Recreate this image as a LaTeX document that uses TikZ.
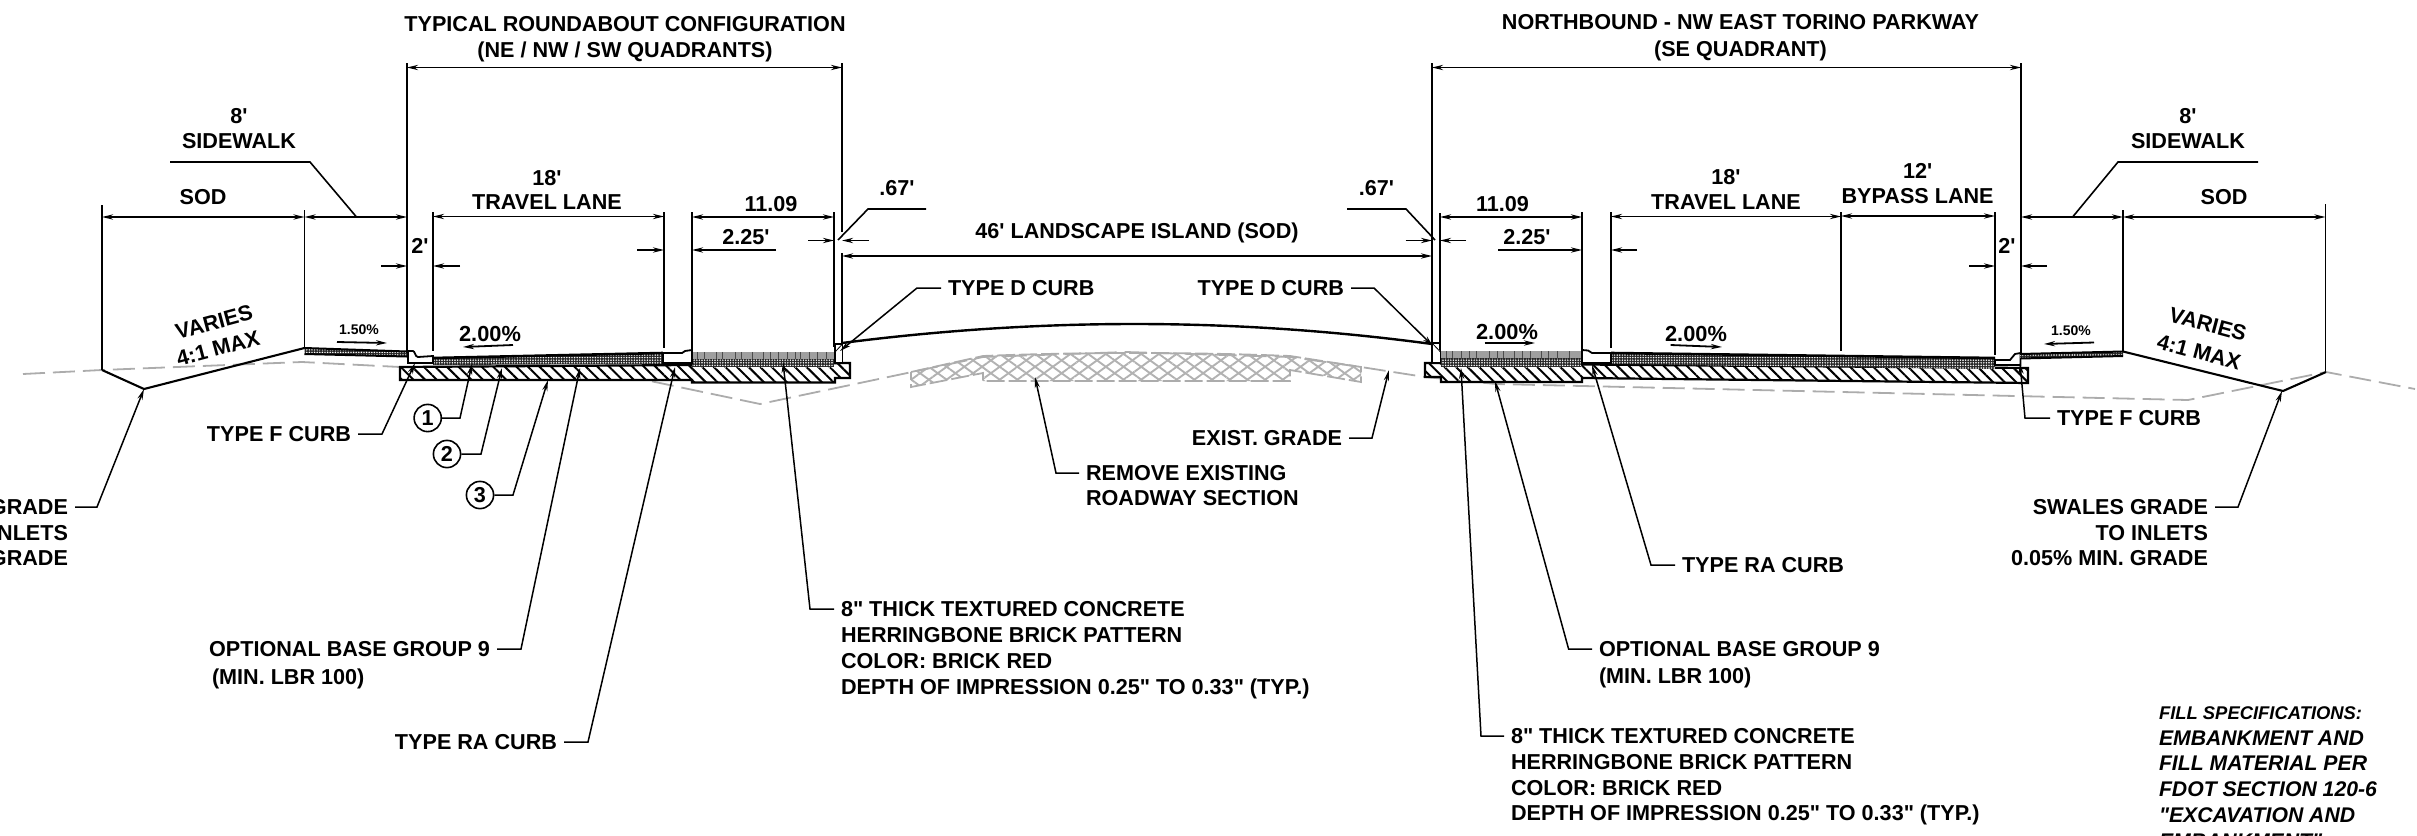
\documentclass[tikz,border=0pt]{standalone}
\usepackage{fontspec}
\setmainfont{Liberation Sans}[Ligatures=TeXOff]
\usetikzlibrary{arrows.meta,patterns.meta}

\begin{document}
\begin{tikzpicture}[x=0.5pt,y=-0.5pt,>={Stealth[length=5.5pt,width=2.6pt]}]
    \tikzstyle{extline}=[line width=0.7pt]
    \tikzstyle{dimline}=[<->,line width=0.9pt]
    \tikzstyle{tickline}=[->,line width=0.9pt]
    \tikzstyle{leader}=[->,line width=0.75pt]
    \tikzstyle{lbl}=[font=\fontsize{10.8}{12}\selectfont\bfseries,inner sep=0pt,outer sep=3.5pt,text height=7.6pt,text depth=0pt]
    \tikzstyle{slopelbl}=[lbl,font=\fontsize{10.9}{12}\selectfont\bfseries,text height=7.8pt]
    \tikzstyle{tinylbl}=[lbl,font=\fontsize{7}{9}\selectfont\bfseries,text height=5pt]
    \tikzstyle{notelbl}=[lbl,font=\fontsize{10.6}{12}\selectfont\bfseries\itshape,anchor=west]
    \tikzstyle{callout}=[circle,draw=black,line width=0.8pt,fill=white,minimum size=13.6pt,inner sep=0pt,font=\fontsize{10.8}{12}\selectfont\bfseries]
    \tikzstyle{grade}=[gray!65,line width=0.9pt,dash pattern=on 11pt off 4pt]
    \tikzstyle{hatchfill}=[draw=black,line width=1.1pt,fill=white,postaction={pattern={Lines[angle=-45,distance=4.1pt,line width=1pt]}}]
    \tikzstyle{speck}=[fill=black!85,postaction={pattern={Dots[distance=1.3pt,radius=0.42pt]},pattern color=white}]
    \tikzstyle{curb}=[draw=black,line width=0.9pt,fill=white]
    \tikzstyle{slopearrow}=[->,line width=0.9pt]
    \tikzstyle{removed}=[gray!65,line width=0.9pt]

    \useasboundingbox (0,0) rectangle (2417,836);

    % existing grade and the section to remove
    \draw[grade] (23,374) -- (102,370) -- (302,362) -- (400,367) -- (636,378) -- (760,404) -- (912,372)
        -- (983,357) -- (1126,352) -- (1290,357) -- (1361,367) -- (1425,377) -- (1496,384)
        -- (2188,400) -- (2326,372) -- (2415,389);
    \begin{scope}
        \clip (911,372) -- (983,356) .. controls (1080,352) and (1190,352) .. (1290,356) -- (1361,367) -- (1361,382)
            -- (1290,370) -- (1290,381) -- (983,381) -- (983,373) -- (911,387) -- cycle;
        \fill[pattern={Lines[angle=36,distance=5.2pt,line width=0.95pt]},pattern color=gray!60] (905,345) rectangle (1365,390);
        \fill[pattern={Lines[angle=-36,distance=5.2pt,line width=0.95pt]},pattern color=gray!60] (905,345) rectangle (1365,390);
    \end{scope}
    \draw[removed,dash pattern=on 9pt off 2pt] (911,372) -- (983,356) .. controls (1080,352) and (1190,352) .. (1290,356) -- (1361,367) -- (1361,382)
        -- (1290,370) -- (1290,381) -- (983,381) -- (983,373) -- (911,387) -- cycle;

    % left pavement
    \draw[hatchfill] (400,367) -- (692,365) -- (850,363) -- (850,378) -- (835,378) -- (835,382.5) -- (692,382.5) -- (692,380) -- (400,380) -- cycle;
    \fill[speck] (433,358) -- (663,353) -- (663,364) -- (433,365) -- cycle;
    \draw[line width=1.3pt] (433,358) -- (663,353);
    \fill[gray!75] (692,352) rectangle (834,359);
    \fill[speck] (692,359) rectangle (834,367);
    \foreach \x in {697,704,716,722,735,741,752,763,770,778,787,795,800,809,817,826}
        \draw[black!70,line width=0.4pt] (\x,352) -- (\x,359);
    \draw[curb] (408,351) -- (413,351) .. controls (415,351) and (415,357) .. (418,357) -- (433,356) -- (433,363) -- (408,363) -- cycle;
    \draw[curb] (663,353) -- (682,353) -- (685,351) -- (692,350) -- (692,363) -- (663,363) -- cycle;
    \draw[curb] (835,344) -- (842.5,344) -- (842.5,363) -- (835,363) -- cycle;
    \draw[line width=0.4pt] (835,352) -- (842.5,344);
    \fill[speck] (304.5,348) -- (407,351.5) -- (407,356) -- (304.5,354) -- cycle;
    \draw[line width=1pt] (304.5,348) -- (407,351.5);
    \draw[line width=1pt] (304.5,354) -- (407,356.5);

    % right pavement
    \draw[hatchfill] (1425,363) -- (1582,364.5) -- (2028,368) -- (2028,383) -- (1582,378) -- (1582,382) -- (1441,382) -- (1441,377) -- (1425,377) -- cycle;
    \fill[speck] (1611,353) -- (1995,358) -- (1995,369) -- (1611,364) -- cycle;
    \draw[line width=1.3pt] (1611,353) -- (1995,358);
    \fill[gray!75] (1441,351) rectangle (1581,358);
    \fill[speck] (1441,358) rectangle (1581,367);
    \foreach \x in {1446,1452,1461,1469,1476,1489,1497,1503,1514,1522,1530,1541,1548,1557,1569}
        \draw[black!70,line width=0.4pt] (\x,351) -- (\x,358);
    \draw[curb] (1582,350) -- (1588,350.5) -- (1592,353) -- (1611,353) -- (1611,363) -- (1582,363) -- cycle;
    \draw[curb] (1995,360) -- (2010,360) -- (2015,354) -- (2020.5,353) -- (2020.5,365) -- (1995,365) -- cycle;
    \draw[curb] (1432,343) -- (1440.5,343) -- (1440.5,363) -- (1432,363) -- cycle;
    \draw[line width=0.4pt] (1432,343) -- (1440.5,352);
    \fill[speck] (2020,354) -- (2123,352) -- (2123,355.5) -- (2020,358) -- cycle;
    \draw[line width=1pt] (2020,354) -- (2123,351.5);
    \draw[line width=1pt] (2020,358.5) -- (2123,356);

    % island and side slopes
    \draw[line width=1.2pt] (842,343) .. controls (1040,317.5) and (1235,317.5) .. (1432,344);
    \draw[line width=1.05pt] (102,370) -- (144,389) -- (304.5,348);
    \draw[line width=1.05pt] (2123,351.5) -- (2283,391) -- (2326,372);

    % extension lines
    \foreach \name/\x/\ya/\yb in {a/102/205/370, b/304.5/210/348, c/407/63/353, d/433/212/351, e/664/212/348, f/692/212/350,
            g/834/212/347, h/842/63/232, i/842/253/343, j/1432/63/343, k/1440/213/350, l/1582/212/352, m/1611/212/348,
            n/1841/212/351, o/1995/212/355, p/2021/63/353, q/2123/210/351, r/2325.5/204/371} {
        \coordinate (X-\name) at (\x,\ya);
        \coordinate (Y-\name) at (\x,\yb);
        \draw[extline] (X-\name) -- (Y-\name);
    }

    % dimensions between them
    \foreach \from/\to/\y in {c/h/67.5, a/b/217, b/c/217, d/e/216.5, f/g/217, i/j/256, j/p/67.5, k/l/217, m/n/216.5,
            n/o/216, p/q/217, q/r/217}
        \draw[dimline] (X-\from |- 0,\y) -- (X-\to |- 0,\y);
    \foreach \to/\from/\y in {c/381/266, d/460/266, e/637/250, f/776/250, g/808/240.5, i/869/240.5, j/1405.6/240.5, k/1466/240.5,
            l/1498/250, m/1637/250, o/1969/266, p/2047/266}
        \draw[tickline] (\from,\y) -- (X-\to |- 0,\y);

    % centred texts
    \foreach \x/\y/\txt in {625/24/{TYPICAL ROUNDABOUT CONFIGURATION}, 625/50/{(NE / NW / SW QUADRANTS)},
            239/116/{8'}, 239/141/{SIDEWALK}, 203/197/{SOD}, 547/178/{18'}, 547/202/{TRAVEL LANE}, 771/204/{11.09},
            746/237/{2.25'}, 420/246/{2'}, 897/188/{.67'}, 1137/231/{46' LANDSCAPE ISLAND (SOD)}, 1376.5/188/{.67'},
            1740.5/22/{NORTHBOUND - NW EAST TORINO PARKWAY}, 1740.5/49/{(SE QUADRANT)}, 1502.5/204/{11.09}, 1527/237/{2.25'},
            1726/177/{18'}, 1726/202/{TRAVEL LANE}, 1917.6/171/{12'}, 1917.6/196/{BYPASS LANE}, 2007/246/{2'},
            2188/116/{8'}, 2188/141/{SIDEWALK}, 2224/197/{SOD}}
        \node[lbl] at (\x,\y) {\txt};
    \foreach \x/\y/\rot/\txt in {214/322/15/{VARIES}, 218/348/15/{4:1 MAX}, 2208/324/-15/{VARIES}, 2199/352/-15/{4:1 MAX}}
        \node[lbl,rotate=\rot] at (\x,\y) {\txt};

    % slope marks
    \node[tinylbl] at (359,329) {1.50\%};
    \node[tinylbl] at (2071,330) {1.50\%};
    \foreach \x/\y in {490/334, 1507/332, 1696/334}
        \node[slopelbl] at (\x,\y) {2.00\%};
    \foreach \xa/\ya/\xb/\yb in {337/342/387/343, 513/345/463/347, 1484.5/343/1535/343, 1670.6/345/1722/347, 2094/342.5/2044/344}
        \draw[slopearrow] (\xa,\ya) -- (\xb,\yb);

    % labels with a leader
    \foreach \name/\x/\y/\anc/\txt in {swale-l/75/507/east/{SWALES GRADE}, curbf-l/358/434/east/{TYPE F CURB},
            base-l/497/649/east/{OPTIONAL BASE GROUP 9}, curbra-l/564/742/east/{TYPE RA CURB},
            conc-l/834/609/west/{8" THICK TEXTURED CONCRETE}, remove/1079/473/west/{REMOVE EXISTING},
            grade/1349/438/east/{EXIST. GRADE}, curbd-l/941/288/west/{TYPE D CURB}, curbd-r/1351/288/east/{TYPE D CURB},
            conc-r/1504/736/west/{8" THICK TEXTURED CONCRETE}, base-r/1592/649/west/{OPTIONAL BASE GROUP 9},
            curbra-r/1675/565/west/{TYPE RA CURB}, curbf-r/2050/418/west/{TYPE F CURB}, swale-r/2215/507/east/{SWALES GRADE}}
        \node[lbl,anchor=\anc] (\name) at (\x,\y) {\txt};

    % the lines under them
    \foreach \x/\y/\anc/\txt in {75/533/east/{TO INLETS}, 75/558/east/{0.05\% MIN. GRADE}, 205/677/west/{(MIN. LBR 100)},
            834/635/west/{HERRINGBONE BRICK PATTERN}, 834/661/west/{COLOR: BRICK RED}, 834/687/west/{DEPTH OF IMPRESSION 0.25" TO 0.33" (TYP.)},
            1079/498/west/{ROADWAY SECTION}, 1504/762/west/{HERRINGBONE BRICK PATTERN}, 1504/788/west/{COLOR: BRICK RED},
            1504/813/west/{DEPTH OF IMPRESSION 0.25" TO 0.33" (TYP.)}, 1592/676/west/{(MIN. LBR 100)},
            2215/533/east/{TO INLETS}, 2215/558/east/{0.05\% MIN. GRADE}}
        \node[lbl,anchor=\anc] at (\x,\y) {\txt};

    % numbered callouts
    \node[callout] (one) at (427.7,418) {1};
    \node[callout] (two) at (447,454) {2};
    \node[callout] (three) at (480,495) {3};

    % leaders
    \foreach \name/\side/\vx/\tx/\ty in {swale-l/east/97/144/389, curbf-l/east/382/415/363, one/east/460/472/364, two/east/481/502/368,
            three/east/513/548/380, base-l/east/521/580/368, curbra-l/east/588/675/367, conc-l/west/810/783/362,
            remove/west/1056/1035/377, grade/east/1372/1389/370, curbd-l/west/917/840/351, curbd-r/east/1374/1433/346,
            conc-r/west/1481/1461/368, base-r/west/1568.6/1495/381, curbra-r/west/1651/1592/365, curbf-r/west/2025/2020/363,
            swale-r/east/2238/2282/391} {
        \coordinate (via-\name) at (\name.\side -| \vx,0);
        \coordinate (tip-\name) at (\tx,\ty);
        \draw[leader] (\name.\side) -- (via-\name) -- (tip-\name);
    }

    % sidewalk and .67 leaders
    \foreach \name/\xa/\xb/\xc/\yc in {walk-l/170/310/356.5/217, walk-r/2258/2118/2072.6/217} {
        \coordinate (s-\name) at (\xa,162);
        \coordinate (m-\name) at (\xb,162);
        \coordinate (e-\name) at (\xc,\yc);
        \draw[line width=0.8pt] (s-\name) -- (m-\name) -- (e-\name);
    }
    \foreach \name/\xa/\xb/\xc/\yc in {odd-l/926/868/838/240, odd-r/1347/1406/1435/240} {
        \coordinate (s-\name) at (\xa,209);
        \coordinate (m-\name) at (\xb,209);
        \coordinate (e-\name) at (\xc,\yc);
        \draw[line width=0.8pt] (s-\name) -- (m-\name) -- (e-\name);
    }

    % fill note, cut by the page
    \node[notelbl,font=\fontsize{9.2}{12}\selectfont\bfseries\itshape] at (2152,712) {FILL SPECIFICATIONS:};
    \foreach \y/\txt in {738/{EMBANKMENT AND}, 763/{FILL MATERIAL PER}, 789/{FDOT SECTION 120-6},
            815/{"EXCAVATION AND}, 841/{EMBANKMENT"}}
        \node[notelbl] at (2152,\y) {\txt};
\end{tikzpicture}
\end{document}
